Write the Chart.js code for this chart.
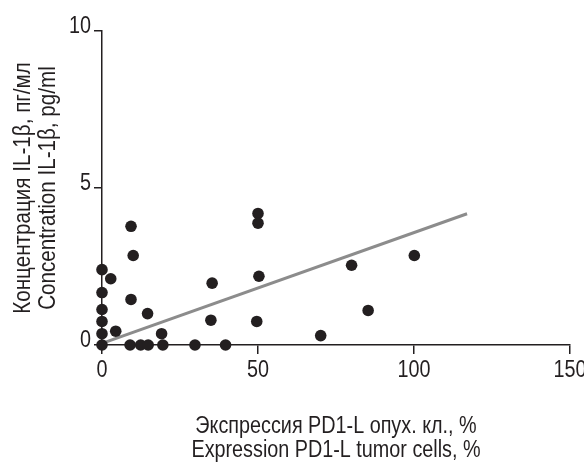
<!DOCTYPE html>
<html>
<head>
<meta charset="utf-8">
<script src="https://cdn.jsdelivr.net/npm/chart.js@4/dist/chart.umd.min.js"></script>
<style>
html,body{margin:0;padding:0;background:#fff;}
#wrap{width:584px;height:463px;position:relative;}
</style>
</head>
<body>
<div id="wrap"><canvas id="c" width="584" height="463"></canvas></div>
<script>
const xValues = [0, 0, 0, 0, 0, 0, 2.8, 4.4, 9.3, 10.0, 9.3, 9.0, 12.4, 14.8, 14.6, 19.1, 19.5, 29.8, 39.6, 35.3, 34.9, 50.0, 50.0, 50.3, 49.6, 70.1, 80.0, 85.3, 100.1];
const yValues = [2.40, 1.67, 1.13, 0.75, 0.36, 0, 2.11, 0.44, 3.78, 2.85, 1.45, 0, 0, 0, 1.0, 0.36, 0, 0, 0, 1.97, 0.79, 4.19, 3.88, 2.19, 0.75, 0.30, 2.54, 1.10, 2.85];
const fitX = [0, 117];
const fitY = [0.05, 4.18];
const xTicks = [0, 50, 100, 150];
const yTicks = [0, 5, 10];
const xTitle = ['Экспрессия PD1-L опух. кл., %', 'Expression PD1-L tumor cells, %'];
const yTitle = ['Концентрация IL-1β, пг/мл', 'Concentration IL-1β, pg/ml'];

const FONT = "'Liberation Sans Narrow', 'Arial Narrow', 'Liberation Sans', Arial, sans-serif";
const TXT = '#231f20';
const NARROW = 0.86;

// condensed text rendering (the reference uses a narrow sans face)
const origFillText = CanvasRenderingContext2D.prototype.fillText;
CanvasRenderingContext2D.prototype.fillText = function (text, x, y, maxWidth) {
  this.save();
  this.translate(x, y);
  this.scale(NARROW, 1);
  if (maxWidth !== undefined) origFillText.call(this, text, 0, 0, maxWidth / NARROW);
  else origFillText.call(this, text, 0, 0);
  this.restore();
};

const points = xValues.map((x, i) => ({x: x, y: yValues[i]}));
const fitLine = fitX.map((x, i) => ({x: x, y: fitY[i]}));

new Chart(document.getElementById('c'), {
  type: 'scatter',
  data: {
    datasets: [
      {
        data: points,
        pointRadius: 5.8,
        pointHoverRadius: 5.8,
        pointBackgroundColor: '#231f20',
        pointBorderWidth: 0,
        borderColor: '#231f20',
        showLine: false,
        clip: false
      },
      {
        data: fitLine,
        showLine: true,
        borderColor: '#8c8c8c',
        borderWidth: 3,
        pointRadius: 0,
        fill: false,
        clip: false
      }
    ]
  },
  options: {
    responsive: false,
    animation: false,
    events: [],
    layout: {padding: {top: 31, right: 14, left: 0, bottom: 0}},
    plugins: {legend: {display: false}, tooltip: {enabled: false}},
    scales: {
      x: {
        type: 'linear',
        min: 0, max: 150,
        afterBuildTicks: (s) => { s.ticks = xTicks.map(v => ({value: v})); },
        afterFit: (s) => { s.height = 118; s.paddingLeft = 0; s.paddingRight = 0; },
        border: {display: true, color: '#231f20', width: 1.5},
        grid: {drawOnChartArea: false, drawTicks: true, tickLength: 9, color: '#231f20', lineWidth: 1.5},
        ticks: {color: TXT, font: {family: FONT, size: 23}, padding: 3, maxRotation: 0, autoSkip: false},
        title: {display: true, text: xTitle, color: TXT, font: {family: FONT, size: 23, lineHeight: 1.02}, padding: {top: 0, bottom: 1}}
      },
      y: {
        type: 'linear',
        min: 0, max: 10,
        afterBuildTicks: (s) => { s.ticks = yTicks.map(v => ({value: v})); },
        afterFit: (s) => { s.width = 102; s.paddingTop = 0; s.paddingBottom = 0; },
        border: {display: true, color: '#231f20', width: 1.5},
        grid: {drawOnChartArea: false, drawTicks: true, tickLength: 8, color: '#231f20', lineWidth: 1.5},
        ticks: {color: TXT, font: {family: FONT, size: 23}, padding: 3, labelOffset: -4},
        title: {display: true, text: yTitle, color: TXT, font: {family: FONT, size: 24, lineHeight: 1.04}, padding: {top: 11, bottom: 0}}
      }
    }
  }
});
</script>
</body>
</html>
